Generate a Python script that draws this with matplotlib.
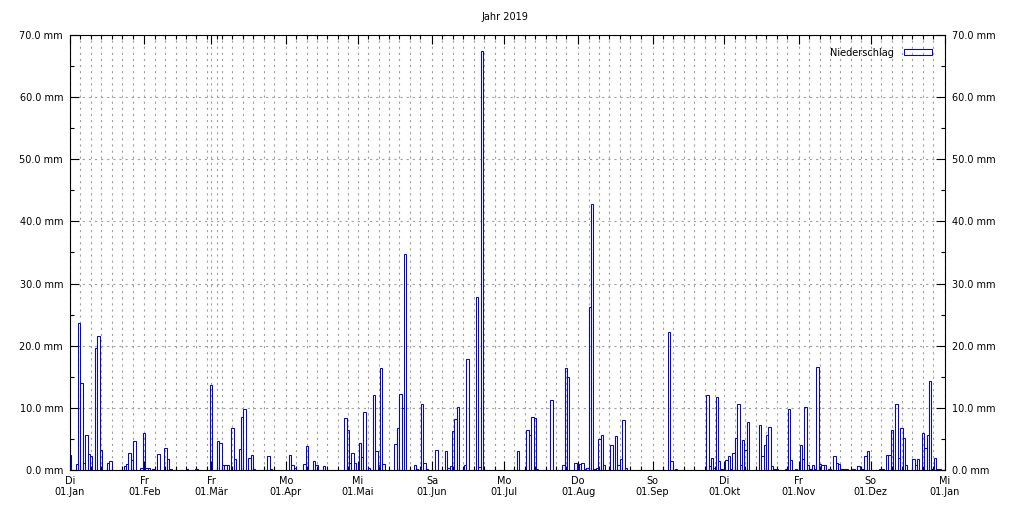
import datetime as dt
import matplotlib
matplotlib.use("Agg")
import matplotlib.pyplot as plt
from matplotlib.patches import Patch
from matplotlib.ticker import FixedLocator, MultipleLocator, FuncFormatter

YEAR = 2019

# Tag im Jahr (0 = 01.Jan) und Niederschlag in mm
rain_day = [-1, 2, 3, 4, 5, 6, 7, 8, 10, 11, 12, 15, 16, 22, 23, 24, 25, 26, 29, 30,
            31, 32, 34, 36, 39, 40, 41, 48, 52, 58, 61, 62, 63, 64, 65, 67, 68, 70, 71, 72,
            74, 75, 76, 82, 83, 91, 92, 93, 97, 98, 101, 102, 105, 114, 115, 116, 117, 118, 120, 121,
            122, 124, 126, 127, 128, 129, 130, 135, 136, 137, 138, 139, 143, 144, 146, 147, 148, 152, 156, 157,
            158, 159, 160, 161, 164, 165, 169, 170, 171, 186, 190, 191, 192, 193, 194, 200, 205, 206, 207, 210,
            211, 212, 213, 214, 215, 216, 217, 218, 219, 220, 221, 222, 225, 227, 228, 229, 230, 231, 249, 250,
            252, 265, 266, 267, 268, 269, 270, 271, 273, 274, 275, 276, 277, 278, 279, 280, 281, 282, 287, 288,
            289, 290, 291, 292, 293, 294, 298, 299, 300, 302, 304, 305, 306, 307, 308, 309, 310, 311, 312, 313,
            314, 316, 318, 319, 320, 321, 322, 323, 326, 328, 329, 330, 331, 332, 337, 338, 340, 341, 342, 344,
            345, 346, 347, 348, 351, 352, 353, 355, 356, 357, 358, 359, 360, 361, 362]
rain_mm = [2.4, 1.0, 23.6, 14.0, 1.1, 5.6, 2.5, 2.25, 19.6, 21.5, 3.2, 1.1, 1.4, 0.7, 1.0, 2.7, 1.6, 4.6, 0.3, 5.9,
           0.3, 0.3, 0.1, 2.5, 3.5, 1.7, 0.1, 0.1, 0.1, 13.6, 4.6, 4.3, 0.75, 0.75, 0.75, 6.7, 1.8, 3.4, 8.5, 9.8,
           1.9, 2.4, 0.2, 2.2, 0.2, 2.4, 0.75, 0.3, 0.9, 3.9, 1.4, 0.75, 0.6, 8.3, 6.4, 1.1, 2.7, 1.1, 4.3, 2.1,
           9.3, 0.3, 12.0, 3.1, 0.8, 16.4, 1.0, 4.2, 6.7, 12.3, 9.9, 34.7, 0.75, 0.1, 10.6, 1.1, 0.1, 3.2, 3.0, 0.3,
           0.6, 6.3, 8.2, 10.1, 0.75, 17.9, 27.8, 0.5, 67.4, 3.0, 6.4, 5.7, 8.5, 8.3, 0.1, 11.3, 0.75, 16.4, 14.9, 1.1,
           0.25, 1.0, 1.1, 0.1, 0.25, 26.3, 42.8, 0.1, 0.25, 5.0, 5.7, 0.8, 4.0, 5.4, 0.8, 1.8, 8.0, 0.3, 22.2, 1.4,
           0.1, 12.0, 0.6, 1.9, 0.3, 11.7, 1.4, 0.1, 1.6, 2.2, 0.1, 2.7, 5.1, 10.7, 0.8, 4.8, 3.2, 7.7, 7.2, 2.2,
           4.0, 5.6, 7.0, 0.6, 0.1, 0.1, 0.1, 9.8, 1.6, 0.1, 4.0, 1.7, 10.1, 0.75, 0.1, 0.75, 0.1, 16.5, 0.9, 0.75,
           0.75, 0.1, 2.2, 1.1, 0.9, 0.1, 0.1, 0.1, 0.1, 0.6, 0.1, 0.1, 2.2, 3.0, 0.1, 0.1, 2.4, 2.4, 6.5, 10.6,
           1.9, 6.7, 5.1, 0.75, 1.7, 0.75, 1.7, 5.9, 3.5, 5.6, 14.3, 0.1, 1.9, 0.1, 0.1]

wochentage = ["Mo", "Di", "Mi", "Do", "Fr", "Sa", "So"]
monate = ["Jan", "Feb", "Mär", "Apr", "Mai", "Jun", "Jul", "Aug", "Sep", "Okt", "Nov", "Dez"]

plt.rcParams['font.family'] = ['DejaVu Sans']

start = dt.date(YEAR, 1, 1)
month_starts = [dt.date(YEAR, m, 1) for m in range(1, 13)] + [dt.date(YEAR + 1, 1, 1)]
major = [(d - start).days for d in month_starts]
labels = [f"{wochentage[d.weekday()]}\n01.{monate[d.month - 1]}" for d in month_starts]

# Nebenteilung wie bei gnuplot: 7 Schritte eines mittleren Monats
step = 365.25 / 12 / 7
minor = []
for m in major[:-1]:
    for k in range(1, 8):
        p = m + k * step
        if p < 365 and min(abs(p - q) for q in major) > 0.8:
            minor.append(p)

fig = plt.figure(figsize=(10.15, 5.07), dpi=100)
ax = fig.add_axes([70 / 1015, 1 - 470 / 507, 875 / 1015, 435 / 507])

ax.bar([d + 0.85 for d in rain_day], rain_mm, width=1.0, fill=False,
       edgecolor="#0000ff", linewidth=0.75, label="Niederschlag")

ax.set_xlim(0, 365)
ax.set_ylim(0, 70)

ax.xaxis.set_major_locator(FixedLocator(major))
ax.xaxis.set_minor_locator(FixedLocator(minor))
ax.set_xticklabels(labels)
ax.yaxis.set_major_locator(MultipleLocator(10))
ax.yaxis.set_minor_locator(MultipleLocator(5))
ax.yaxis.set_major_formatter(FuncFormatter(lambda v, p: f"{v:.1f} mm"))

ax.tick_params(which="both", direction="in", top=True, right=True,
               labelright=True, labelsize=7, width=0.8, color="black")
ax.tick_params(which="major", length=6.5)
ax.tick_params(which="minor", length=3.2)
ax.tick_params(axis="x", pad=4)
ax.tick_params(axis="y", pad=5)

grid = dict(color="#a0a0a0", linewidth=0.8, linestyle=(0, (2, 3.5)))
ax.grid(True, axis="x", which="both", **grid)
ax.grid(True, axis="y", which="major", **grid)
ax.set_axisbelow(True)

for s in ax.spines.values():
    s.set_linewidth(0.8)

fig.text(505 / 1015, 1 - 17 / 507, "Jahr 2019", ha="center", va="center", fontsize=7)

ax.legend(handles=[Patch(facecolor="none", edgecolor="#0000ff", linewidth=0.75, label="Niederschlag")],
          loc="upper right", frameon=False, markerfirst=False, fontsize=7,
          handlelength=2.9, handleheight=0.6, borderaxespad=0.9, handletextpad=1.1)

fig.savefig("out.png", dpi=100)
